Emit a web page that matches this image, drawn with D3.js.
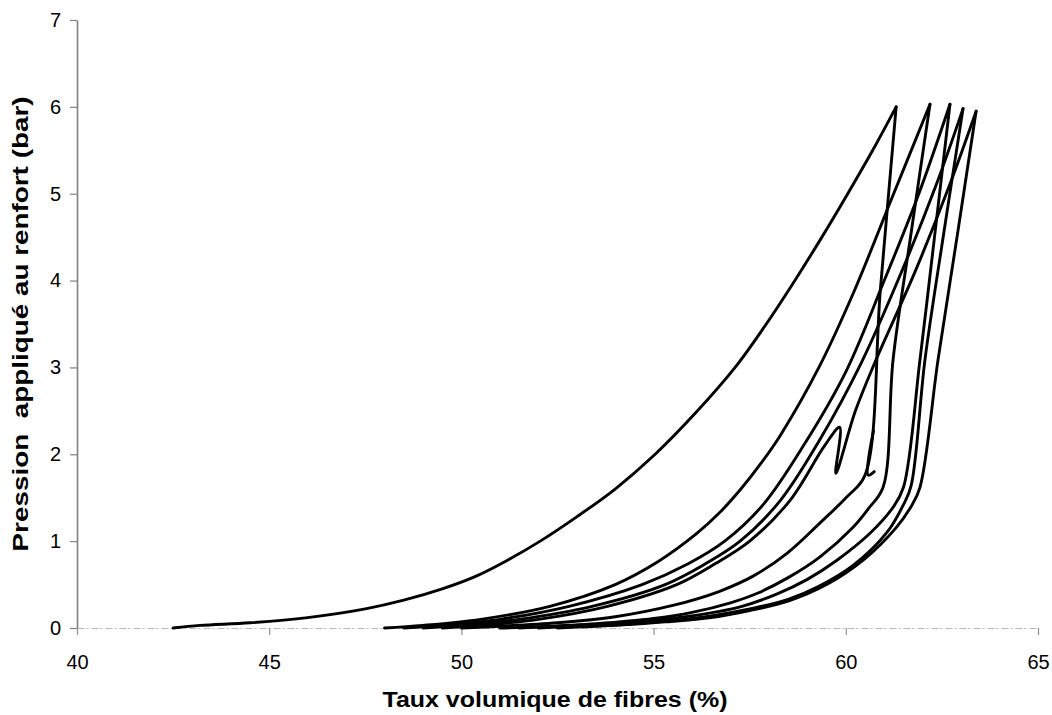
<!DOCTYPE html>
<html>
<head>
<meta charset="utf-8">
<script src="https://cdn.jsdelivr.net/npm/d3@7"></script>
<style>
  body { margin: 0; background: #fff; }
  svg { display: block; }
</style>
</head>
<body>
<div id="chart"></div>
<script>
// ticks
var xTicks = [40, 45, 50, 55, 60, 65];
var yTicks = [0, 1, 2, 3, 4, 5, 6, 7];

// cycle 1 : first loading then unloading
var charge1 = [[42.5,0.0],[43.2,0.03],[44.5,0.06],[46.0,0.12],[47.5,0.22],[48.5,0.32],[49.5,0.45],[50.4,0.6],[51.2,0.78],[52.05,1.0],[53.0,1.28],[54.0,1.6],[55.04,2.0],[56.1,2.48],[57.12,3.0],[57.9,3.48],[58.63,3.97],[59.35,4.48],[60.05,5.0],[60.7,5.5],[61.31,6.0]];
var decharge1 = [[61.31,6.0],[60.9,3.9],[60.5,1.76],[60.03,1.51],[59.33,1.21],[58.47,0.86],[57.6,0.6],[56.7,0.42],[55.5,0.26],[54.0,0.13],[52.5,0.06],[51.0,0.02],[50.0,0.0]];

// cycles 2 to 5
var charge2 = [[48.0,0.0],[49.0,0.03],[50.5,0.1],[52.3,0.25],[54.0,0.5],[55.1,0.76],[56.1,1.08],[56.7,1.32],[57.27,1.6],[57.8,1.9],[58.3,2.22],[59.3,3.0],[60.2,3.86],[61.2,4.95],[62.19,6.03]];
var decharge2 = [[62.19,6.03],[61.7,4.55],[61.23,3.09],[60.97,1.62],[60.6,1.38],[60.19,1.16],[59.33,0.82],[58.5,0.58],[57.7,0.4],[57.0,0.29],[56.0,0.18],[55.0,0.11],[53.5,0.05],[52.0,0.015],[51.0,0.0]];

var charge3 = [[48.5,0.0],[49.5,0.03],[51.0,0.1],[52.8,0.25],[54.7,0.5],[55.9,0.74],[56.85,1.0],[57.85,1.42],[58.9,2.1],[60.0,2.95],[61.0,4.0],[61.9,5.0],[62.71,6.03]];
var decharge3 = [[62.71,6.03],[62.32,4.55],[61.93,3.09],[61.5,1.62],[61.23,1.39],[60.63,1.09],[59.77,0.78],[59.0,0.56],[58.2,0.39],[57.3,0.25],[56.3,0.16],[55.0,0.09],[53.5,0.04],[52.0,0.01],[51.5,0.0]];

var charge4 = [[49.0,0.0],[50.0,0.03],[51.5,0.1],[53.4,0.25],[55.3,0.5],[56.35,0.74],[57.25,1.0],[58.3,1.47],[59.3,2.15],[60.4,3.05],[61.45,4.1],[62.35,5.1],[63.05,5.98]];
var decharge4 = [[63.05,5.98],[62.55,4.55],[62.06,3.09],[61.7,1.64],[61.5,1.42],[61.07,1.1],[60.19,0.72],[59.3,0.48],[58.5,0.33],[57.5,0.22],[56.5,0.14],[55.3,0.08],[54.0,0.035],[52.5,0.01],[52.0,0.0]];

var charge5 = [[49.5,0.0],[50.5,0.03],[52.0,0.1],[53.8,0.25],[55.6,0.5],[56.6,0.74],[57.5,1.0],[58.55,1.47],[59.45,2.1],[59.84,2.31],[59.74,1.78],[60.25,2.5],[60.75,3.05],[61.8,4.1],[62.7,5.1],[63.39,5.95]];
var decharge5 = [[63.39,5.95],[62.9,4.52],[62.4,3.09],[61.93,1.62],[61.7,1.4],[61.3,1.15],[60.5,0.8],[59.5,0.5],[58.5,0.31],[57.5,0.2],[56.5,0.12],[55.3,0.07],[54.0,0.03],[52.5,0.0]];

// small relaxation hook at the bottom of the first unloading
var crochet1 = [[60.72,2.27],[60.58,1.76],[60.74,1.8]];

var courbes = [charge1, decharge1, charge2, decharge2, charge3, decharge3,
               charge4, decharge4, charge5, decharge5, crochet1];

var width = 1052, height = 715;

var svg = d3.select("#chart").append("svg")
    .attr("width", width)
    .attr("height", height);

var x = d3.scaleLinear().domain([40, 65]).range([77, 1038]);
var y = d3.scaleLinear().domain([0, 7]).range([628, 20]);

// y axis
var yAxis = svg.append("g")
    .attr("transform", "translate(" + x(40) + ",0)")
    .call(d3.axisLeft(y).tickValues(yTicks).tickFormat(d3.format("d"))
        .tickSize(7).tickSizeOuter(0).tickPadding(9));
yAxis.select(".domain").attr("stroke", "#808080").attr("stroke-width", 1.6);
yAxis.selectAll(".tick line").attr("stroke", "#808080").attr("stroke-width", 1.2);
yAxis.selectAll(".tick text")
    .style("font-family", "'Liberation Sans', Arial, sans-serif")
    .style("font-size", "20px")
    .attr("fill", "#000");

// x axis (faint, dotted like the scan)
var xAxis = svg.append("g")
    .attr("transform", "translate(0," + y(0) + ")")
    .call(d3.axisBottom(x).tickValues(xTicks).tickFormat(d3.format("d"))
        .tickSize(7).tickSizeOuter(0).tickPadding(20));
xAxis.select(".domain").attr("stroke", "#b8b8b8").attr("stroke-width", 1)
    .attr("stroke-dasharray", "7,2,2,3");
xAxis.selectAll(".tick line").attr("stroke", "#909090").attr("stroke-width", 1.2);
xAxis.selectAll(".tick text")
    .style("font-family", "'Liberation Sans', Arial, sans-serif")
    .style("font-size", "20px")
    .attr("fill", "#000");

// curves
var line = d3.line()
    .x(function(d) { return x(d[0]); })
    .y(function(d) { return y(d[1]); })
    .curve(d3.curveCatmullRom.alpha(0.5));

svg.selectAll(".courbe")
    .data(courbes)
    .enter().append("path")
    .attr("class", "courbe")
    .attr("d", line)
    .attr("fill", "none")
    .attr("stroke", "#000")
    .attr("stroke-width", 2.9)
    .attr("stroke-linejoin", "round")
    .attr("stroke-linecap", "round");

// axis titles
svg.append("text")
    .attr("x", 555)
    .attr("y", 707)
    .attr("text-anchor", "middle")
    .attr("textLength", 345)
    .attr("lengthAdjust", "spacingAndGlyphs")
    .style("font-family", "'Liberation Sans', Arial, sans-serif")
    .style("font-weight", "bold")
    .style("font-size", "22px")
    .text("Taux volumique de fibres (%)");

svg.append("text")
    .attr("transform", "translate(28,324) rotate(-90)")
    .attr("text-anchor", "middle")
    .attr("textLength", 455)
    .attr("lengthAdjust", "spacingAndGlyphs")
    .style("white-space", "pre")
    .style("font-family", "'Liberation Sans', Arial, sans-serif")
    .style("font-weight", "bold")
    .style("font-size", "22px")
    .text("Pression  appliqué au renfort (bar)");
</script>
</body>
</html>
